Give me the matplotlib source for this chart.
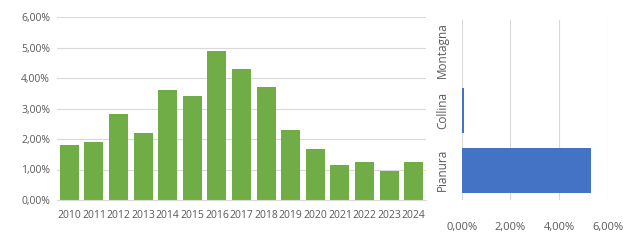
import matplotlib.pyplot as plt
from matplotlib.ticker import FuncFormatter

# data
years = [str(y) for y in range(2010, 2025)]
yearly = [1.80, 1.90, 2.82, 2.20, 3.61, 3.41, 4.89, 4.30, 3.70, 2.30, 1.67, 1.15, 1.25, 0.95, 1.25]
zones = ["Pianura", "Collina", "Montagna"]
zone_vals = [5.32, 0.08, 0.0]

plt.rcParams['font.family'] = ['Open Sans', 'DejaVu Sans']
txt = '#595959'
grid = '#d9d9d9'

def pct(v, pos):
    return ('%.2f%%' % v).replace('.', ',')

fig = plt.figure(figsize=(6.3, 2.4), dpi=100)

# left: yearly bars
ax = fig.add_axes([57/630, 1-200/240, 369/630, 183/240])
ax.bar(years, yearly, width=0.77, color='#70AD47', zorder=2)
ax.set_ylim(0, 6)
ax.set_xlim(-0.5, len(years)-0.5)
ax.set_yticks([0, 1, 2, 3, 4, 5, 6])
ax.yaxis.set_major_formatter(FuncFormatter(pct))
ax.grid(axis='y', color=grid, lw=0.8, zorder=0)
for s in ['top', 'right', 'left']:
    ax.spines[s].set_visible(False)
ax.spines['bottom'].set_color(grid)
ax.tick_params(length=0, colors=txt, labelsize=7.5)
ax.tick_params(axis='y', pad=5)
ax.tick_params(axis='x', pad=7)

# right: zones horizontal bars
ax2 = fig.add_axes([461.7/630, 1-200/240, 146/630, 180/240])
ax2.barh(zones, zone_vals, height=0.75, color='#4472C4', zorder=2)
ax2.set_xlim(0, 6)
ax2.set_ylim(-0.5, 2.5)
ax2.set_xticks([0, 2, 4, 6])
ax2.xaxis.set_major_formatter(FuncFormatter(pct))
ax2.grid(axis='x', color=grid, lw=0.8, zorder=0)
for s in ax2.spines.values():
    s.set_visible(False)
ax2.tick_params(length=0, colors=txt, labelsize=8)
ax2.tick_params(axis='x', pad=16)
ax2.tick_params(axis='y', pad=9, labelsize=8.5)
for lab in ax2.get_yticklabels():
    lab.set_rotation(90)
    lab.set_va('center')

fig.savefig('out.png', dpi=100)
